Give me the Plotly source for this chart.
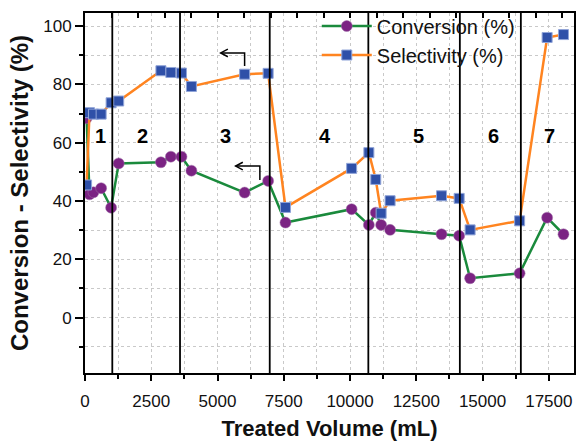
import plotly.graph_objects as go

# ---- data ----
volume = [60, 170, 320, 609, 985, 1271, 2865, 3240, 3640, 4015, 6022, 6910, 7564,
          10060, 10710, 10970, 11173, 11511, 13451, 14117, 14530, 16398, 17436, 18053]
conversion = [68.4, 42.3, 43.0, 44.4, 37.7, 52.9, 53.3, 55.2, 55.2, 50.4, 42.9, 46.9, 32.6,
              37.2, 31.8, 36.0, 31.8, 30.1, 28.6, 28.1, 13.5, 15.2, 34.3, 28.6]
selectivity = [45.5, 70.3, 69.8, 69.8, 73.7, 74.3, 84.7, 84.1, 83.9, 79.3, 83.5, 83.8, 37.8,
               51.2, 56.6, 47.4, 35.8, 40.1, 41.8, 40.9, 30.1, 33.2, 96.1, 97.1]

boundaries = [1030, 3585, 6970, 10690, 14143, 16445]
region_labels = ["1", "2", "3", "4", "5", "6", "7"]
region_x = [571, 2180, 5310, 9070, 12575, 15395, 17530]
region_y = 62.3

x_ticks = [0, 2500, 5000, 7500, 10000, 12500, 15000, 17500]
x_ticktext = ["0", "2500", "5000", "7500", "10000", "12500", "15000", "17500"]
y_ticks = [0, 20, 40, 60, 80, 100]
x_range = [0, 18450]
y_range = [-19, 104.5]

FONT = "Liberation Sans, Arial, sans-serif"

fig = go.Figure()
fig.add_trace(go.Scatter(
    x=volume, y=conversion, mode="lines+markers", name="Conversion (%)",
    line=dict(color="#1a8a3c", width=2.5),
    marker=dict(symbol="circle", size=11, color="#7b2383",
                line=dict(color="#a070a8", width=0.5)),
))
fig.add_trace(go.Scatter(
    x=volume, y=selectivity, mode="lines+markers", name="Selectivity (%)",
    line=dict(color="#ff8420", width=2.5),
    marker=dict(symbol="square", size=10, color="#2f50a8",
                line=dict(color="#90a4d8", width=1)),
))
# invisible trace to hold the top axis
fig.add_trace(go.Scatter(x=[x_range[0]], y=[0], xaxis="x2", mode="markers",
                         marker=dict(opacity=0), showlegend=False, hoverinfo="skip"))

shapes = []
for b in boundaries:
    shapes.append(dict(type="line", xref="x", yref="paper", x0=b, x1=b, y0=0, y1=1,
                       line=dict(color="black", width=1.8), layer="above"))

# L-shaped arrows (annotation graphics)
def l_arrow(xs, y_low, y_high, x_tip):
    return [
        dict(type="path", xref="x", yref="y",
             path=f"M {xs} {y_low} L {xs} {y_high} L {x_tip} {y_high}",
             line=dict(color="black", width=1.5)),
        dict(type="path", xref="x", yref="y",
             path=f"M {x_tip + 270} {y_high + 1.3} L {x_tip} {y_high} L {x_tip + 270} {y_high - 1.3}",
             line=dict(color="black", width=1.5)),
    ]

shapes += l_arrow(6022, 86.3, 90.8, 5120)
shapes += l_arrow(6598, 47.2, 52.0, 5684)

annotations = []
for lab, xv in zip(region_labels, region_x):
    annotations.append(dict(x=xv, y=region_y, xref="x", yref="y", text=lab, showarrow=False,
                            font=dict(family=FONT, size=20, color="black", weight="bold")))

grid_col = "#c9c9c9"
fig.update_layout(
    width=577, height=441,
    margin=dict(l=85, r=1, t=13, b=68),
    paper_bgcolor="white", plot_bgcolor="white",
    font=dict(family=FONT, color="#111"),
    shapes=shapes, annotations=annotations,
    showlegend=True,
    legend=dict(x=0.474, y=1.018, xanchor="left", yanchor="top", bgcolor="rgba(0,0,0,0)",
                font=dict(family=FONT, size=20, color="#111"), itemwidth=50,
                tracegroupgap=0),
    xaxis=dict(range=x_range, tickvals=x_ticks, ticktext=x_ticktext, ticks="outside", ticklen=6, tickwidth=1.5,
               tickcolor="black", showline=True, linecolor="black", linewidth=2, mirror=True,
               showgrid=True, gridcolor=grid_col, griddash="dot", gridwidth=1, zeroline=False,
               tickfont=dict(size=17, family=FONT, color="#111"),
               minor=dict(dtick=1250, tick0=0, ticks="outside", ticklen=4, tickcolor="black",
                          showgrid=True, gridcolor=grid_col, griddash="dot"),
               title=dict(text="<b>Treated Volume (mL)</b>", font=dict(size=22, family=FONT, color="#111"),
                          standoff=12),
               ticklabelstandoff=6),
    xaxis2=dict(range=x_range, overlaying="x", side="top", tickvals=list(range(0, 19000, 1000)),
                ticks="inside", ticklen=5, tickwidth=1.5, tickcolor="black", showticklabels=False,
                showgrid=False, showline=False, zeroline=False),
    yaxis=dict(range=y_range, tickvals=y_ticks, ticks="outside", ticklen=8, tickwidth=1.5,
               tickcolor="black", showline=True, linecolor="black", linewidth=2, mirror=True,
               showgrid=True, gridcolor=grid_col, griddash="dot", gridwidth=1, zeroline=False,
               tickfont=dict(size=17, family=FONT, color="#111"),
               minor=dict(dtick=10, tick0=0, ticks="outside", ticklen=4, tickcolor="black",
                          showgrid=True, gridcolor=grid_col, griddash="dot"),
               title=dict(text="<b>Conversion - Selectivity (%)</b>", font=dict(size=24, family=FONT, color="#111"),
                          standoff=8)),
)

fig.write_html("out.html")
